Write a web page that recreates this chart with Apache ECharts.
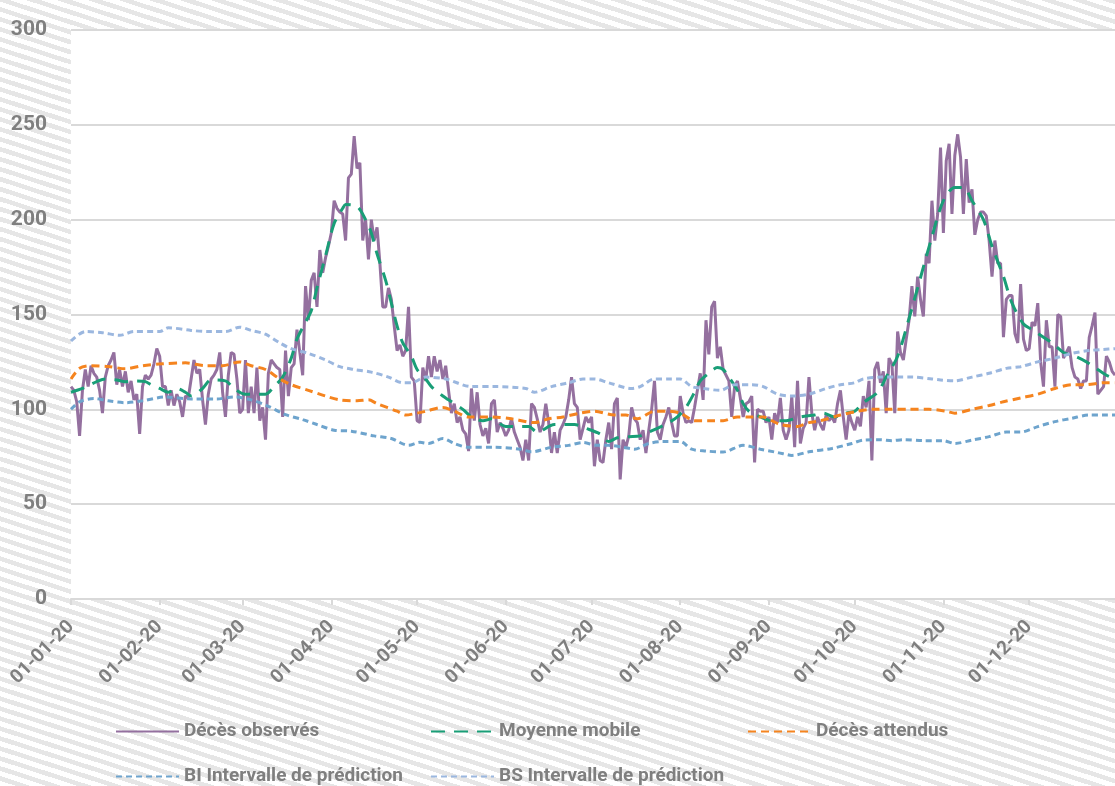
<!DOCTYPE html>
<html><head><meta charset="utf-8">
<script src="https://cdn.jsdelivr.net/npm/echarts@6/dist/echarts.min.js"></script>
<style>
html,body{margin:0;padding:0;}
#chart{width:1115px;height:786px;background:repeating-linear-gradient(18deg,#ffffff 0px,#ffffff 5px,#e6e6e6 5px,#e6e6e6 9.5px);}
</style></head>
<body><div id="chart"></div>
<script>
// Tick labels (month starts)
const tickLabels = ['01-01-20','01-02-20','01-03-20','01-04-20','01-05-20','01-06-20','01-07-20','01-08-20','01-09-20','01-10-20','01-11-20','01-12-20'];
// Categories: every day of 2020
const categories = [];
for (let d = 0; d < 366; d++) {
  const dt = new Date(2020, 0, 1 + d);
  const dd = String(dt.getDate()).padStart(2,'0');
  const mm = String(dt.getMonth()+1).padStart(2,'0');
  categories.push(dd + '-' + mm + '-20');
}
const seriesNames = ['Décès observés','Moyenne mobile','Décès attendus','BI Intervalle de prédiction','BS Intervalle de prédiction'];
// Observed daily deaths (one value per day)
const observed = [
112,110,104,86,110,121,112,123,119,117,110,98,117,123,126,130,113,121,112,120,109,115,105,108,87,112,118,116,118,124,132,
128,112,112,102,110,102,108,104,96,107,106,116,126,119,121,105,92,108,116,118,121,130,109,96,118,130,129,116,98,
100,126,98,112,98,122,94,101,84,119,126,124,122,121,96,131,107,122,124,142,130,118,165,147,168,172,154,184,172,180,186,
193,210,206,204,203,189,222,224,244,227,230,189,200,179,200,189,196,177,154,154,164,158,144,131,134,128,131,154,117,115,
94,93,122,115,128,117,128,120,126,116,123,110,98,103,93,96,89,87,78,111,94,109,92,86,90,82,103,105,88,93,90,
86,89,95,88,84,80,73,84,73,103,101,95,88,92,103,93,77,88,77,89,92,96,105,117,103,101,84,90,96,93,
96,70,84,73,72,84,93,79,103,106,63,84,80,86,101,95,93,84,89,77,89,100,115,88,84,92,96,101,93,86,86,
107,98,93,94,93,101,110,119,105,147,129,154,157,127,133,121,118,115,96,112,115,106,96,103,104,107,72,100,99,99,93,
96,84,98,93,106,89,84,89,107,80,115,82,90,93,117,98,89,96,92,89,97,94,96,93,103,110,96,84,98,93,
89,96,91,107,101,115,73,121,125,114,120,98,127,124,98,141,130,126,137,147,165,149,170,158,149,182,177,210,189,203,238,
193,231,240,203,234,245,233,203,232,209,216,192,200,204,204,202,189,170,189,177,177,138,158,160,160,140,135,166,137,131,
132,146,144,156,125,112,147,133,133,112,150,149,127,130,133,122,117,116,111,115,115,138,144,151,108,110,112,128,125,120,118
];
// Moving average read at [day index, value]
const movingAvg = [[0,109],[4,111],[9,114.6],[12,116],[16,115.5],[19,114.6],[23,115],[26,114.6],[28,113],[31,111],[34,109],[37,111],[40,109],[42,107],[46,111],[49,115.5],[54,115],[57,111],[61,108],[65,108],[68,108],[71,112],[74,117],[77,127],[79,137],[82,146],[84,152],[86,164],[89,181],[92,198],[95,206],[96,208],[100,207],[103,200],[105,193],[107,182],[110,168],[112,156],[114,144],[116,135],[119,128],[121,121],[124,116],[126,112],[130,107],[132,105],[137,100],[140,96],[144,94],[147,95],[152,91],[160,91],[163,88],[169,92],[176,92],[180,90],[185,87],[188,83],[191,85],[195,85.6],[199,86],[202,88],[205,90],[209,93],[212,96],[215,101],[218,109],[220,115],[223,119],[226,122],[228,121],[230,117],[233,110],[235,103],[237,99],[241,96],[245,94],[250,94],[255,96],[260,97],[263,98],[267,96],[271,98],[274,99],[277,103.5],[282,109],[285,117],[289,128],[293,148],[296,164],[301,191],[305,210],[309,217],[312,217],[315,210],[319,200],[322,186],[326,170],[329,156],[333,145],[336,142],[340,138],[343,135],[347,130],[351,128],[355,125],[358,122],[362,118],[365,116]];
// Expected deaths
const expected = [[0,116],[3,121.6],[7,123],[13,122.6],[19,121.4],[25,123],[32,124],[40,124.5],[47,123],[53,123],[59,125],[63,123],[68,121],[73,116],[77,113],[83,110],[89,107],[94,105],[100,104.5],[104,105],[107,103],[114,99],[117,97],[121,98],[124,99],[130,101],[134,99],[139,96],[147,96],[154,95],[162,93],[167,95],[172,96],[178,98],[183,99],[190,97],[194,97],[198,95],[204,99],[209,99],[213,98],[218,94],[223,94],[228,94],[233,96],[238,96],[242,96],[245,94],[248,92],[254,91],[258,93],[262,94],[269,97],[275,99],[280,100],[286,100],[293,100],[300,100],[306,99],[309,98],[315,100],[321,102],[326,104],[332,106],[338,108],[344,111],[350,113],[355,113],[361,114],[365,114]];
// Lower prediction bound
const lowerBound = [[0,100],[3,104],[8,105.7],[13,104.5],[19,103.5],[25,104.5],[33,106.5],[42,105.5],[51,105.5],[57,106.5],[63,105],[69,101.6],[75,97.2],[81,94.6],[86,92],[92,89],[98,88.5],[106,86],[112,84.6],[118,81],[122,82.6],[125,82],[130,84.6],[134,82],[139,80],[148,80],[157,79],[161,77.6],[168,80],[174,81],[179,82.5],[184,81],[188,81],[193,80],[197,79],[202,82],[207,83],[213,83],[217,79],[222,78],[228,77.5],[235,81],[241,79],[246,77.5],[249,76.6],[252,75.7],[258,77.6],[266,79.4],[273,82],[277,83.8],[283,84],[287,83.5],[291,84],[298,83.5],[305,83.5],[309,82],[315,83.8],[321,85.6],[327,88],[332,88],[338,90.9],[344,93.5],[350,95.3],[356,97],[361,97],[365,97]];
// Upper prediction bound
const upperBound = [[0,136],[5,141],[11,140.4],[17,139],[22,141],[31,141],[34,143],[42,141.6],[48,141],[54,141],[59,143.3],[63,141.6],[68,139.6],[73,135],[77,132],[83,129.5],[89,126],[94,122.5],[99,121],[105,119.6],[111,117],[116,114],[119,114],[124,117],[131,116],[140,112],[148,112],[159,111],[162,109],[168,112],[174,114],[179,116],[183,116],[188,114],[196,111],[199,112],[204,116],[209,116],[213,116],[217,112],[221,111],[227,110],[232,113],[238,113],[242,112],[247,108],[252,107],[258,108],[264,111],[269,113],[274,114],[277,116],[283,117],[289,117],[294,117],[301,116],[304,115.5],[309,115],[315,117],[321,119],[327,121.6],[332,122.5],[338,125],[344,127],[350,129.5],[356,131],[361,131.6],[365,132]];
const yTicks = {min:0, max:300, interval:50};

const FONT = 'Roboto';
const GREY = '#7f7f7f';
const GRID = '#d9d9d9';
const isTick = (i, v) => tickLabels.indexOf(v) >= 0;

const chart = echarts.init(document.getElementById('chart'), null, {renderer:'canvas'});
const legendBase = {
  itemWidth: 63, itemHeight: 14, padding: 0, selectedMode: false,
  itemStyle: {color: 'rgba(0,0,0,0)', borderWidth: 0, opacity: 0},
  textStyle: {color: GREY, fontSize: 19, fontWeight: 'bold', fontFamily: FONT}
};
chart.setOption({
  backgroundColor: 'transparent',
  animation: false,
  grid: {left: 71, top: 30, bottom: 187, right: -7, show: true, backgroundColor: '#ffffff', borderWidth: 0},
  legend: [
    Object.assign({data:[seriesNames[0]], left:115, top:722}, legendBase),
    Object.assign({data:[seriesNames[1]], left:430, top:722}, legendBase),
    Object.assign({data:[seriesNames[2]], left:747, top:722}, legendBase),
    Object.assign({data:[seriesNames[3]], left:115, top:767}, legendBase),
    Object.assign({data:[seriesNames[4]], left:430, top:767}, legendBase)
  ],
  xAxis: {
    type: 'category', data: categories, boundaryGap: false,
    axisLine: {show: true, lineStyle: {color: GRID, width: 2}},
    axisTick: {show: true, interval: isTick, length: 6, lineStyle: {color: GRID, width: 2}},
    axisLabel: {interval: isTick, rotate: 45, margin: 25, color: GREY, fontSize: 19, fontWeight: 'bold', fontFamily: FONT},
    splitLine: {show: false}
  },
  yAxis: {
    type: 'value', min: yTicks.min, max: yTicks.max, interval: yTicks.interval,
    axisLine: {show: false}, axisTick: {show: false},
    axisLabel: {margin: 24, color: GREY, fontSize: 21, fontWeight: 'bold', fontFamily: FONT},
    splitLine: {lineStyle: {color: GRID, width: 2}}
  },
  series: [
    {name: seriesNames[0], type: 'line', data: observed, symbol: 'none', lineStyle: {color: '#94709f', width: 3}, itemStyle:{color:'#94709f'}},
    {name: seriesNames[1], type: 'line', data: movingAvg, symbol: 'none', smooth: 0.3, lineStyle: {color: '#199e77', width: 3, type: [14, 9]}, itemStyle:{color:'#199e77'}},
    {name: seriesNames[2], type: 'line', data: expected, symbol: 'none', smooth: 0.3, lineStyle: {color: '#f5841f', width: 3, type: [8, 5]}, itemStyle:{color:'#f5841f'}},
    {name: seriesNames[3], type: 'line', data: lowerBound, symbol: 'none', smooth: 0.3, lineStyle: {color: '#6ea4cd', width: 3, type: [6, 4]}, itemStyle:{color:'#6ea4cd'}},
    {name: seriesNames[4], type: 'line', data: upperBound, symbol: 'none', smooth: 0.3, lineStyle: {color: '#9bb7df', width: 3, type: [6, 4]}, itemStyle:{color:'#9bb7df'}}
  ]
});
</script>
</body></html>
